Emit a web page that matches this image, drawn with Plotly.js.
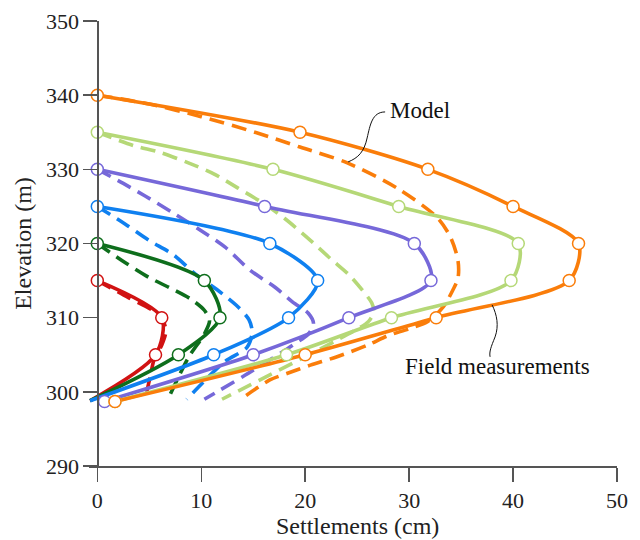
<!DOCTYPE html>
<html>
<head>
<meta charset="utf-8">
<script src="https://cdn.plot.ly/plotly-3.0.1.min.js"></script>
<style>html,body{margin:0;padding:0;background:#fff;}#chart{width:640px;height:540px;}</style>
</head>
<body>
<div id="chart"></div>
<script>
// ---- Field measurements (measured points) ----
const redFieldX = [0, 6.2, 5.6];
const redFieldY = [315, 310, 305];
const greenFieldX = [0, 10.3, 11.8, 7.8];
const greenFieldY = [320, 315, 310, 305];
const blueFieldX = [0, 16.6, 21.2, 18.4, 11.2];
const blueFieldY = [325, 320, 315, 310, 305];
const purpleFieldX = [0, 16.1, 30.5, 32.1, 24.2, 15.0, 0.7];
const purpleFieldY = [330, 325, 320, 315, 310, 305, 298.7];
const lgreenFieldX = [0, 16.9, 29.0, 40.5, 39.8, 28.3, 18.2, 1.7];
const lgreenFieldY = [335, 330, 325, 320, 315, 310, 305, 298.7];
const orangeFieldX = [0, 19.5, 31.8, 40.0, 46.3, 45.4, 32.6, 20.0, 1.7];
const orangeFieldY = [340, 335, 330, 325, 320, 315, 310, 305, 298.7];
// common foundation point where the shorter field curves end
const baseX = [-0.7];
const baseY = [298.8];

// ---- Model (dashed) ----
const redModelX = [0, 3, 6, 6.6, 6.2, 5.5, 5.0, 4.6];
const redModelY = [315, 312.7, 310.3, 308.3, 306.3, 304.5, 301.5, 299.0];
const greenModelX = [0, 2.7, 5, 7, 9, 10.3, 10.8, 10.3, 8.8, 6.8];
const greenModelY = [320, 317.4, 315.4, 314, 312.5, 311, 309.6, 307.8, 304.7, 299.0];
const blueModelX = [0, 2.7, 5, 7.3, 9.5, 11.5, 13.5, 14.6, 14.9, 14.4, 12.2, 8.6];
const blueModelY = [325, 322.6, 320.4, 318.5, 315.8, 313.8, 311.5, 309.7, 308, 306, 304, 299.0];
const purpleModelX = [0, 2.5, 4.6, 7.2, 9.7, 12.3, 14.7, 17.1, 18.8, 20.3, 20.8, 20.3, 18.8, 15, 10.3];
const purpleModelY = [330, 328.1, 326.4, 324.2, 322, 319.5, 316.4, 314.1, 312.1, 310.6, 309.2, 307.8, 306.3, 302.9, 299.0];
const lgreenModelX = [0, 3.5, 6, 8.7, 11.2, 13.5, 16, 18, 20.2, 22.4, 24.2, 25.5, 26.4, 26.6, 26.1, 24.8, 12];
const lgreenModelY = [335, 333.2, 332.3, 330.9, 329.4, 327.5, 325.4, 323.4, 320.8, 318, 315.8, 313.7, 312, 310.8, 309.5, 308.3, 299.0];
const orangeModelX = [0, 5, 10, 15.4, 19.5, 24, 28.8, 32.7, 34.0, 34.7, 34.7, 34.2, 33.3, 31.8, 30, 28, 26, 23, 20.5, 18.3, 16.6, 13.8];
const orangeModelY = [340, 338.8, 337.1, 334.9, 333.0, 330.9, 327.5, 323.5, 320.8, 317.7, 315.3, 313.7, 311.5, 309.5, 308.5, 307.6, 306.3, 304.7, 303.6, 302.5, 301.6, 299.0];

const tickVals = [0, 10, 20, 30, 40, 50];
const yTickVals = [290, 300, 310, 320, 330, 340, 350];

const C = {
  red: '#d11212', green: '#0e6e1c', blue: '#0f80f0',
  purple: '#7668d9', lgreen: '#b5d877', orange: '#fa7d0a'
};

const series = [
  {c: C.red, fx: redFieldX, fy: redFieldY, mx: redModelX, my: redModelY, base: true},
  {c: C.green, fx: greenFieldX, fy: greenFieldY, mx: greenModelX, my: greenModelY, base: true},
  {c: C.blue, fx: blueFieldX, fy: blueFieldY, mx: blueModelX, my: blueModelY, base: true},
  {c: C.purple, fx: purpleFieldX, fy: purpleFieldY, mx: purpleModelX, my: purpleModelY, base: false},
  {c: C.lgreen, fx: lgreenFieldX, fy: lgreenFieldY, mx: lgreenModelX, my: lgreenModelY, base: false},
  {c: C.orange, fx: orangeFieldX, fy: orangeFieldY, mx: orangeModelX, my: orangeModelY, base: false}
];

const traces = [];
series.forEach(s => {
  traces.push({x: s.mx, y: s.my, mode: 'lines', type: 'scatter', hoverinfo: 'skip',
    line: {color: s.c, width: 3.6, dash: '15px,8px', shape: 'spline', smoothing: 0.8}});
});
series.forEach(s => {
  const lx = s.base ? s.fx.concat(baseX) : s.fx;
  const ly = s.base ? s.fy.concat(baseY) : s.fy;
  traces.push({x: lx, y: ly, mode: 'lines', type: 'scatter', hoverinfo: 'skip',
    line: {color: s.c, width: 3.6, shape: 'spline', smoothing: 0.8}});
});
series.forEach(s => {
  traces.push({x: s.fx, y: s.fy, mode: 'markers', type: 'scatter', cliponaxis: false,
    marker: {symbol: 'circle', size: 12, color: '#ffffff', line: {color: s.c, width: 1.5}}});
});

const font = 'Liberation Serif, Times New Roman, serif';
const xMin = -0.8;
const layout = {
  width: 640, height: 540,
  margin: {l: 89, r: 23, t: 21, b: 74},
  paper_bgcolor: '#ffffff', plot_bgcolor: '#ffffff',
  showlegend: false,
  font: {family: font, color: '#222', size: 22},
  xaxis: {
    range: [xMin, 50], tickvals: tickVals, ticktext: tickVals.map(String),
    ticks: 'outside', ticklen: 14, tickwidth: 1.5, tickcolor: '#555',
    showline: true, linecolor: '#555', linewidth: 1.5,
    showgrid: false, zeroline: false,
    tickfont: {family: font, size: 22, color: '#222'},
    title: {text: '', font: {family: font, size: 24, color: '#222'}}
  },
  yaxis: {
    range: [290, 350], tickvals: yTickVals, ticktext: yTickVals.map(String),
    anchor: 'free', position: (-xMin) / (50 - xMin),
    ticks: 'outside', ticklen: 14, tickwidth: 1.5, tickcolor: '#555',
    showline: true, linecolor: '#555', linewidth: 1.5,
    showgrid: false, zeroline: false,
    tickfont: {family: font, size: 22, color: '#222'},
    title: {text: 'Elevation (m)', font: {family: font, size: 24, color: '#222'}, standoff: 6}
  },
  shapes: [
    {type: 'path', xref: 'x', yref: 'y', line: {color: '#111', width: 1},
     path: 'M 27.69,337.74 C 26.44,337.74 26.25,335.98 25.96,334.23 C 25.67,332.35 25.10,331.54 24.13,331.0'},
    {type: 'path', xref: 'x', yref: 'y', line: {color: '#111', width: 1},
     path: 'M 37.98,311.73 C 38.46,310.38 38.65,308.9 38.27,307.41 C 37.88,306.06 37.69,305.39 37.79,304.72'}
  ],
  annotations: [
    {x: 25, y: 0, xref: 'x', yref: 'paper', yshift: -60, text: 'Settlements (cm)', showarrow: false,
     xanchor: 'center', yanchor: 'middle', font: {family: font, size: 24, color: '#222'}},
    {x: 27.98, y: 337.87, xref: 'x', yref: 'y', text: 'Model', showarrow: false,
     xanchor: 'left', yanchor: 'middle', font: {family: font, size: 23, color: '#111'}},
    {x: 29.42, y: 303.37, xref: 'x', yref: 'y', text: 'Field measurements', showarrow: false,
     xanchor: 'left', yanchor: 'middle', font: {family: font, size: 23, color: '#111'}}
  ]
};

Plotly.newPlot('chart', traces, layout, {displayModeBar: false, staticPlot: true});
</script>
</body>
</html>
